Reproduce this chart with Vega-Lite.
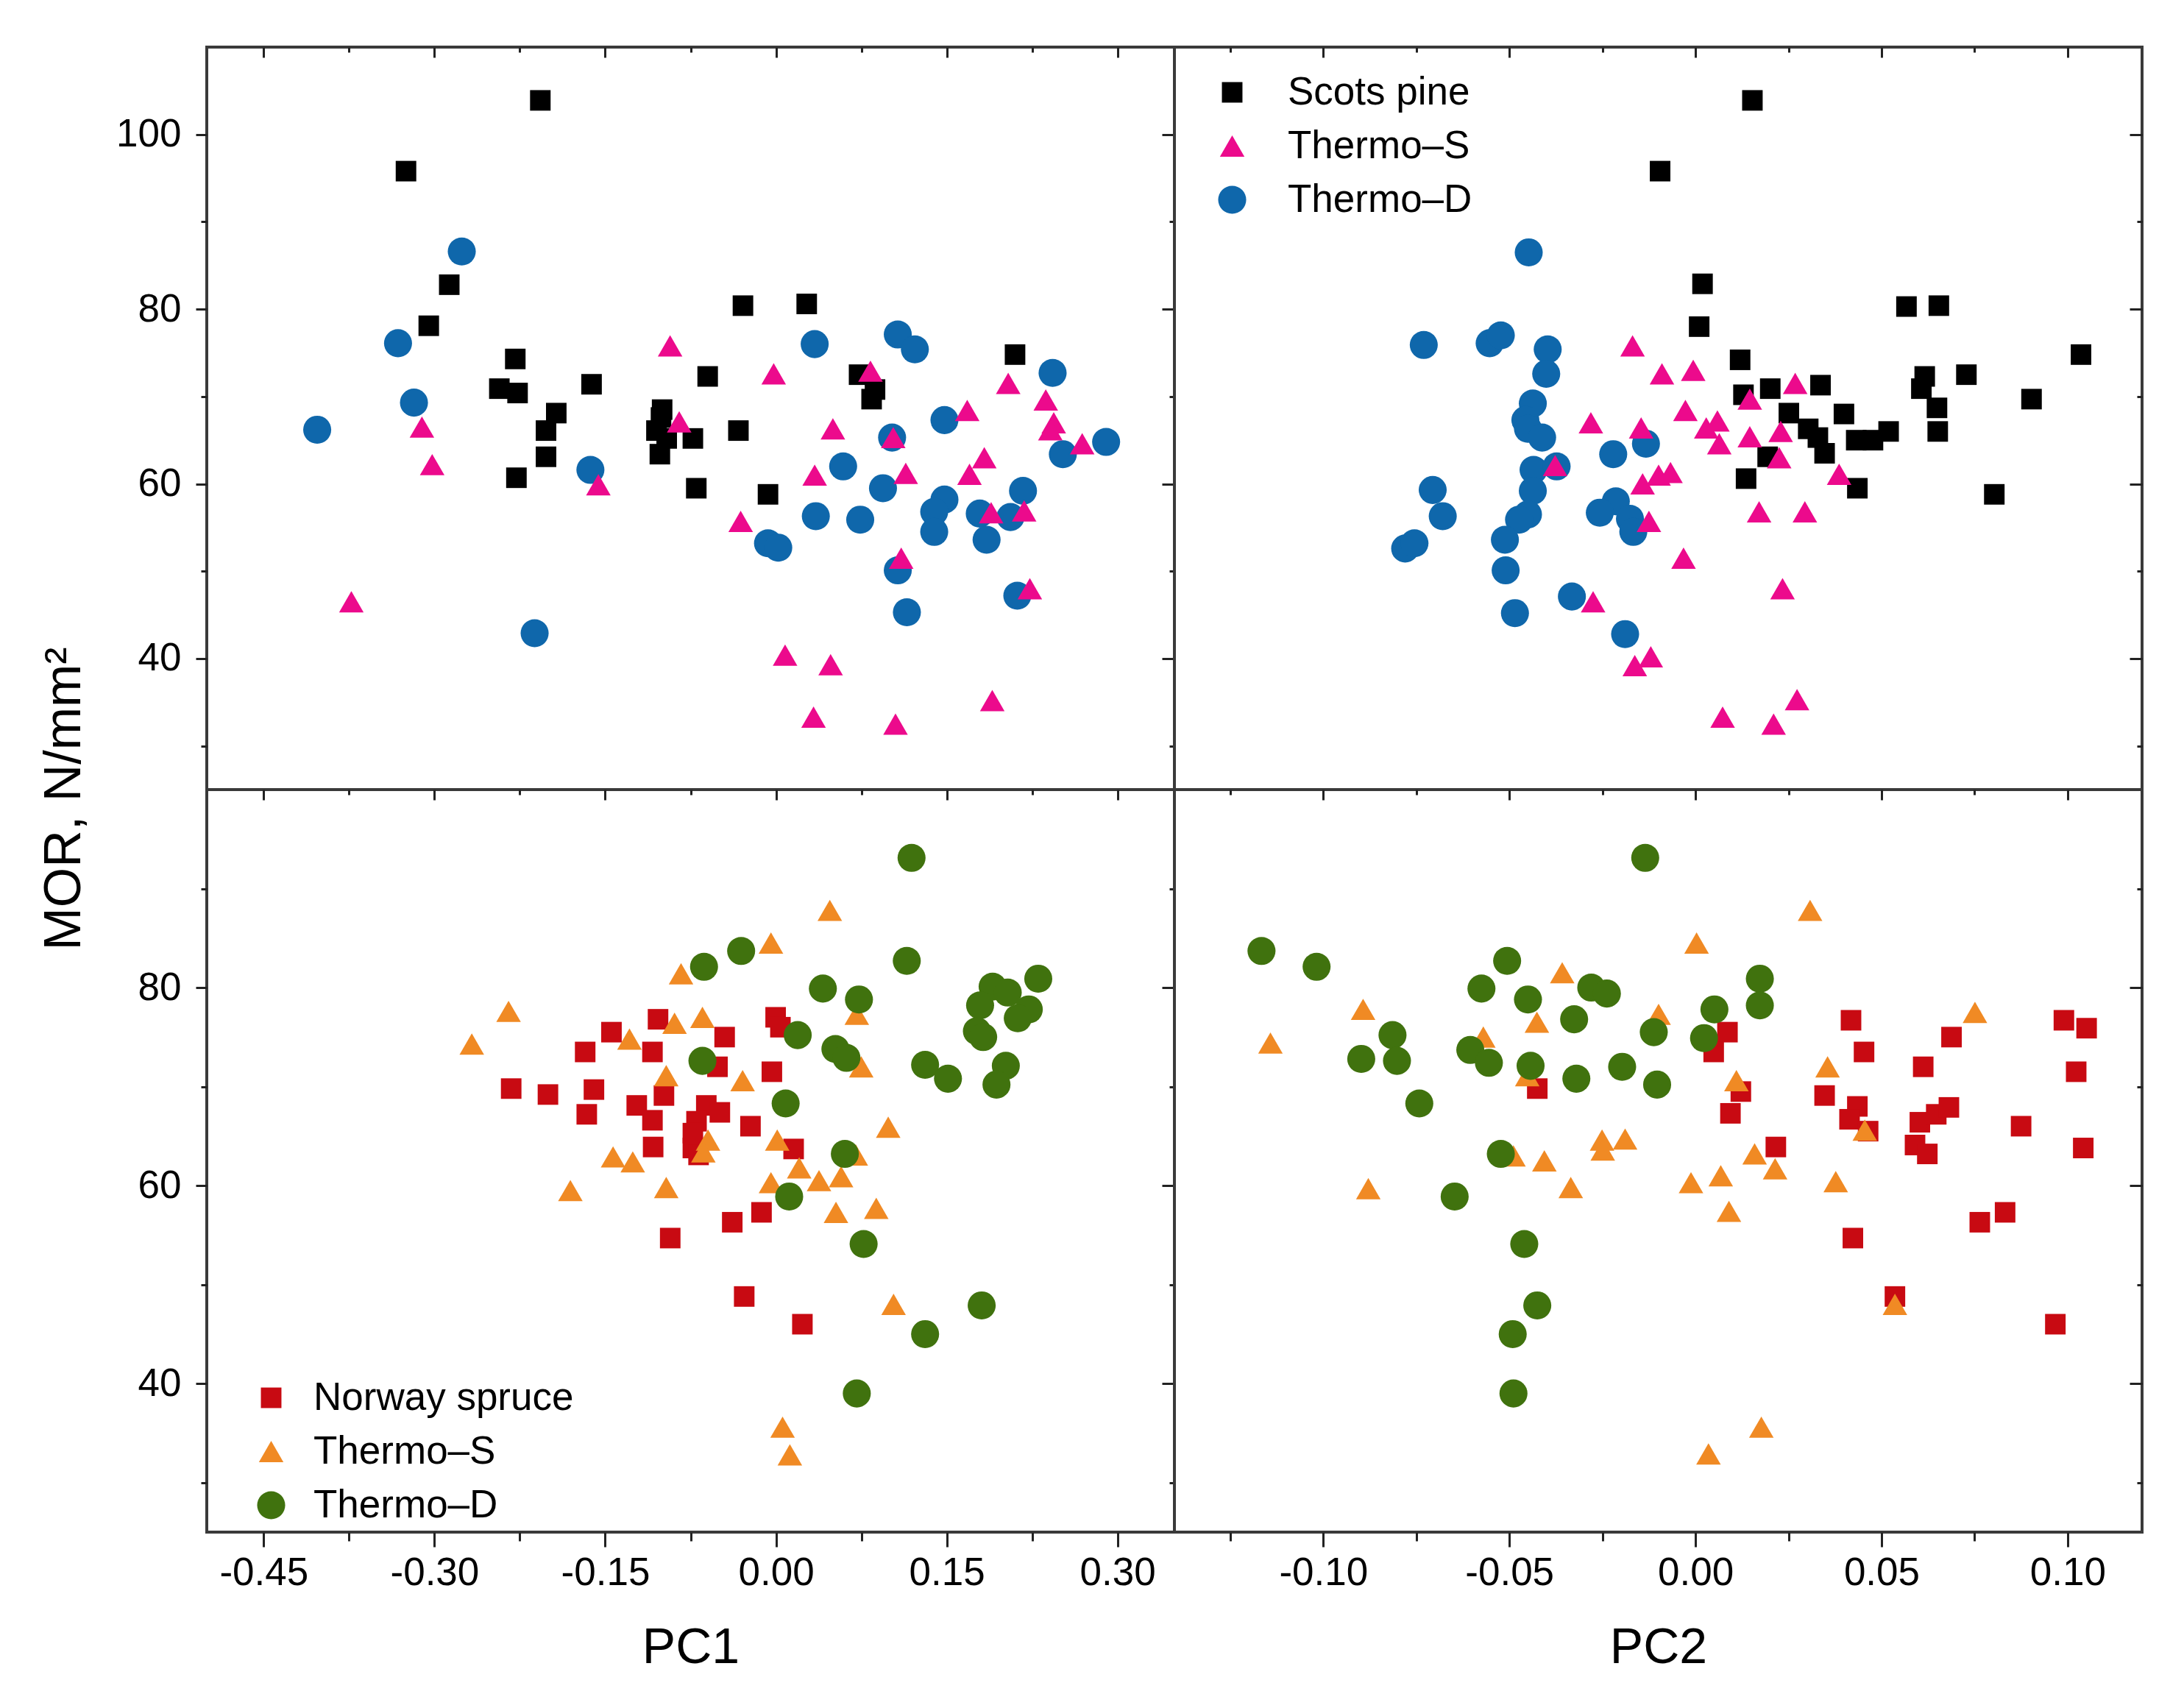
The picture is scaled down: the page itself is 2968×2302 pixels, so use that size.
{
  "$schema": "https://vega.github.io/schema/vega-lite/v6.json",
  "background": "white",
  "padding": {"left": 50, "top": 60, "right": 10, "bottom": 10},
  "config": {
    "font": "Liberation Sans",
    "view": {"stroke": "#3a3a3a", "strokeWidth": 4},
    "axis": {
      "domain": false,
      "grid": false,
      "tickColor": "#222222",
      "tickWidth": 3,
      "labelFont": "Liberation Sans",
      "labelFontSize": 53,
      "labelColor": "#000000",
      "titleFont": "Liberation Sans",
      "titleFontWeight": "normal",
      "titleColor": "#000000"
    },
    "legend": {"labelFont": "Liberation Sans", "labelFontSize": 53, "labelColor": "#000000", "labelLimit": 0}
  },
  "datasets": {
    "tl": [
      {"group": "Scots pine", "PC1": -0.207, "MOR": 103.9},
      {"group": "Scots pine", "PC1": -0.325, "MOR": 95.8},
      {"group": "Scots pine", "PC1": -0.287, "MOR": 82.8},
      {"group": "Scots pine", "PC1": -0.305, "MOR": 78.1},
      {"group": "Scots pine", "PC1": -0.229, "MOR": 74.3},
      {"group": "Scots pine", "PC1": -0.243, "MOR": 70.9},
      {"group": "Scots pine", "PC1": -0.227, "MOR": 70.4},
      {"group": "Scots pine", "PC1": -0.193, "MOR": 68.1},
      {"group": "Scots pine", "PC1": -0.202, "MOR": 66.1},
      {"group": "Scots pine", "PC1": -0.202, "MOR": 63.1},
      {"group": "Scots pine", "PC1": -0.228, "MOR": 60.7},
      {"group": "Scots pine", "PC1": -0.162, "MOR": 71.4},
      {"group": "Scots pine", "PC1": -0.1, "MOR": 68.5},
      {"group": "Scots pine", "PC1": -0.101, "MOR": 67.6},
      {"group": "Scots pine", "PC1": -0.105, "MOR": 66.1},
      {"group": "Scots pine", "PC1": -0.096, "MOR": 65.2},
      {"group": "Scots pine", "PC1": -0.102, "MOR": 63.4},
      {"group": "Scots pine", "PC1": -0.073, "MOR": 65.2},
      {"group": "Scots pine", "PC1": -0.07, "MOR": 59.5},
      {"group": "Scots pine", "PC1": -0.06, "MOR": 72.3},
      {"group": "Scots pine", "PC1": -0.029, "MOR": 80.4},
      {"group": "Scots pine", "PC1": 0.027, "MOR": 80.6},
      {"group": "Scots pine", "PC1": 0.073, "MOR": 72.5},
      {"group": "Scots pine", "PC1": 0.087, "MOR": 70.8},
      {"group": "Scots pine", "PC1": 0.084, "MOR": 69.7},
      {"group": "Scots pine", "PC1": -0.033, "MOR": 66.1},
      {"group": "Scots pine", "PC1": -0.007, "MOR": 58.8},
      {"group": "Scots pine", "PC1": 0.21, "MOR": 74.8},
      {"group": "Thermo–D", "PC1": -0.276, "MOR": 86.6},
      {"group": "Thermo–D", "PC1": -0.332, "MOR": 76.1},
      {"group": "Thermo–D", "PC1": -0.318, "MOR": 69.3},
      {"group": "Thermo–D", "PC1": -0.403, "MOR": 66.2},
      {"group": "Thermo–D", "PC1": -0.163, "MOR": 61.6},
      {"group": "Thermo–D", "PC1": -0.212, "MOR": 42.9},
      {"group": "Thermo–D", "PC1": 0.034, "MOR": 76.0},
      {"group": "Thermo–D", "PC1": 0.107, "MOR": 77.1},
      {"group": "Thermo–D", "PC1": 0.122, "MOR": 75.4},
      {"group": "Thermo–D", "PC1": 0.243, "MOR": 72.7},
      {"group": "Thermo–D", "PC1": 0.148, "MOR": 67.3},
      {"group": "Thermo–D", "PC1": 0.102, "MOR": 65.3},
      {"group": "Thermo–D", "PC1": 0.29, "MOR": 64.8},
      {"group": "Thermo–D", "PC1": 0.252, "MOR": 63.4},
      {"group": "Thermo–D", "PC1": 0.059, "MOR": 62.0},
      {"group": "Thermo–D", "PC1": 0.094, "MOR": 59.5},
      {"group": "Thermo–D", "PC1": 0.217, "MOR": 59.2},
      {"group": "Thermo–D", "PC1": 0.148, "MOR": 58.2},
      {"group": "Thermo–D", "PC1": 0.139, "MOR": 56.8},
      {"group": "Thermo–D", "PC1": 0.035, "MOR": 56.3},
      {"group": "Thermo–D", "PC1": 0.074, "MOR": 55.9},
      {"group": "Thermo–D", "PC1": 0.179, "MOR": 56.6},
      {"group": "Thermo–D", "PC1": 0.206, "MOR": 56.2},
      {"group": "Thermo–D", "PC1": 0.139, "MOR": 54.5},
      {"group": "Thermo–D", "PC1": 0.185, "MOR": 53.6},
      {"group": "Thermo–D", "PC1": -0.007, "MOR": 53.2},
      {"group": "Thermo–D", "PC1": 0.002, "MOR": 52.7},
      {"group": "Thermo–D", "PC1": 0.107, "MOR": 50.1},
      {"group": "Thermo–D", "PC1": 0.212, "MOR": 47.2},
      {"group": "Thermo–D", "PC1": 0.115, "MOR": 45.3},
      {"group": "Thermo–S", "PC1": -0.093, "MOR": 75.8},
      {"group": "Thermo–S", "PC1": -0.085, "MOR": 67.1},
      {"group": "Thermo–S", "PC1": -0.311, "MOR": 66.5},
      {"group": "Thermo–S", "PC1": -0.302, "MOR": 62.2},
      {"group": "Thermo–S", "PC1": -0.156, "MOR": 59.9},
      {"group": "Thermo–S", "PC1": -0.373, "MOR": 46.5},
      {"group": "Thermo–S", "PC1": -0.002, "MOR": 72.6},
      {"group": "Thermo–S", "PC1": 0.083, "MOR": 72.9},
      {"group": "Thermo–S", "PC1": 0.05, "MOR": 66.3},
      {"group": "Thermo–S", "PC1": 0.103, "MOR": 65.3},
      {"group": "Thermo–S", "PC1": 0.168, "MOR": 68.4},
      {"group": "Thermo–S", "PC1": 0.204, "MOR": 71.5},
      {"group": "Thermo–S", "PC1": 0.237, "MOR": 69.6},
      {"group": "Thermo–S", "PC1": 0.244, "MOR": 67.0},
      {"group": "Thermo–S", "PC1": 0.241, "MOR": 66.2},
      {"group": "Thermo–S", "PC1": 0.269, "MOR": 64.6},
      {"group": "Thermo–S", "PC1": 0.183, "MOR": 63.0},
      {"group": "Thermo–S", "PC1": 0.17, "MOR": 61.1},
      {"group": "Thermo–S", "PC1": 0.114, "MOR": 61.2},
      {"group": "Thermo–S", "PC1": 0.034, "MOR": 61.0},
      {"group": "Thermo–S", "PC1": -0.031, "MOR": 55.7},
      {"group": "Thermo–S", "PC1": 0.189, "MOR": 56.7},
      {"group": "Thermo–S", "PC1": 0.218, "MOR": 56.9},
      {"group": "Thermo–S", "PC1": 0.11, "MOR": 51.5},
      {"group": "Thermo–S", "PC1": 0.223, "MOR": 48.0},
      {"group": "Thermo–S", "PC1": 0.008, "MOR": 40.4},
      {"group": "Thermo–S", "PC1": 0.048, "MOR": 39.3},
      {"group": "Thermo–S", "PC1": 0.033, "MOR": 33.3},
      {"group": "Thermo–S", "PC1": 0.105, "MOR": 32.5},
      {"group": "Thermo–S", "PC1": 0.19, "MOR": 35.2}
    ],
    "tr": [
      {"group": "Scots pine", "PC2": 0.0153, "MOR": 103.9},
      {"group": "Scots pine", "PC2": -0.0095, "MOR": 95.8},
      {"group": "Scots pine", "PC2": 0.0019, "MOR": 82.9},
      {"group": "Scots pine", "PC2": 0.001, "MOR": 78.0},
      {"group": "Scots pine", "PC2": 0.012, "MOR": 74.2},
      {"group": "Scots pine", "PC2": 0.0567, "MOR": 80.3},
      {"group": "Scots pine", "PC2": 0.0654, "MOR": 80.4},
      {"group": "Scots pine", "PC2": 0.1036, "MOR": 74.8},
      {"group": "Scots pine", "PC2": 0.0336, "MOR": 71.3},
      {"group": "Scots pine", "PC2": 0.0201, "MOR": 70.9},
      {"group": "Scots pine", "PC2": 0.0129, "MOR": 70.2},
      {"group": "Scots pine", "PC2": 0.0728, "MOR": 72.5},
      {"group": "Scots pine", "PC2": 0.0616, "MOR": 72.3},
      {"group": "Scots pine", "PC2": 0.0607, "MOR": 70.9},
      {"group": "Scots pine", "PC2": 0.0649, "MOR": 68.7},
      {"group": "Scots pine", "PC2": 0.0903, "MOR": 69.7},
      {"group": "Scots pine", "PC2": 0.0251, "MOR": 68.1},
      {"group": "Scots pine", "PC2": 0.0399, "MOR": 68.0},
      {"group": "Scots pine", "PC2": 0.0303, "MOR": 66.3},
      {"group": "Scots pine", "PC2": 0.0329, "MOR": 65.3},
      {"group": "Scots pine", "PC2": 0.0347, "MOR": 63.5},
      {"group": "Scots pine", "PC2": 0.0432, "MOR": 65.0},
      {"group": "Scots pine", "PC2": 0.0477, "MOR": 65.0},
      {"group": "Scots pine", "PC2": 0.0519, "MOR": 66.0},
      {"group": "Scots pine", "PC2": 0.0651, "MOR": 66.0},
      {"group": "Scots pine", "PC2": 0.0194, "MOR": 63.1},
      {"group": "Scots pine", "PC2": 0.0136, "MOR": 60.6},
      {"group": "Scots pine", "PC2": 0.0435, "MOR": 59.5},
      {"group": "Scots pine", "PC2": 0.0803, "MOR": 58.8},
      {"group": "Thermo–D", "PC2": -0.0448, "MOR": 86.5},
      {"group": "Thermo–D", "PC2": -0.073, "MOR": 75.9},
      {"group": "Thermo–D", "PC2": -0.0553, "MOR": 76.1},
      {"group": "Thermo–D", "PC2": -0.0523, "MOR": 77.0},
      {"group": "Thermo–D", "PC2": -0.0397, "MOR": 75.4},
      {"group": "Thermo–D", "PC2": -0.0401, "MOR": 72.6},
      {"group": "Thermo–D", "PC2": -0.0437, "MOR": 69.2},
      {"group": "Thermo–D", "PC2": -0.0457, "MOR": 67.3},
      {"group": "Thermo–D", "PC2": -0.045, "MOR": 66.3},
      {"group": "Thermo–D", "PC2": -0.0412, "MOR": 65.3},
      {"group": "Thermo–D", "PC2": -0.0221, "MOR": 63.4},
      {"group": "Thermo–D", "PC2": -0.0133, "MOR": 64.6},
      {"group": "Thermo–D", "PC2": -0.0435, "MOR": 61.6},
      {"group": "Thermo–D", "PC2": -0.0373, "MOR": 62.0},
      {"group": "Thermo–D", "PC2": -0.0437, "MOR": 59.2},
      {"group": "Thermo–D", "PC2": -0.0706, "MOR": 59.3},
      {"group": "Thermo–D", "PC2": -0.0679, "MOR": 56.3},
      {"group": "Thermo–D", "PC2": -0.045, "MOR": 56.5},
      {"group": "Thermo–D", "PC2": -0.0474, "MOR": 55.9},
      {"group": "Thermo–D", "PC2": -0.0214, "MOR": 58.0},
      {"group": "Thermo–D", "PC2": -0.0257, "MOR": 56.7},
      {"group": "Thermo–D", "PC2": -0.0176, "MOR": 56.0},
      {"group": "Thermo–D", "PC2": -0.0167, "MOR": 54.5},
      {"group": "Thermo–D", "PC2": -0.078, "MOR": 52.6},
      {"group": "Thermo–D", "PC2": -0.0755, "MOR": 53.2},
      {"group": "Thermo–D", "PC2": -0.0512, "MOR": 53.6},
      {"group": "Thermo–D", "PC2": -0.051, "MOR": 50.1},
      {"group": "Thermo–D", "PC2": -0.0332, "MOR": 47.1},
      {"group": "Thermo–D", "PC2": -0.0485, "MOR": 45.2},
      {"group": "Thermo–D", "PC2": -0.0189, "MOR": 42.8},
      {"group": "Thermo–S", "PC2": -0.0169, "MOR": 75.8},
      {"group": "Thermo–S", "PC2": -0.009, "MOR": 72.6},
      {"group": "Thermo–S", "PC2": -0.0281, "MOR": 67.0},
      {"group": "Thermo–S", "PC2": -0.0146, "MOR": 66.4},
      {"group": "Thermo–S", "PC2": -0.0377, "MOR": 62.1},
      {"group": "Thermo–S", "PC2": -0.0142, "MOR": 60.0},
      {"group": "Thermo–S", "PC2": -0.0099, "MOR": 61.0},
      {"group": "Thermo–S", "PC2": -0.0067, "MOR": 61.3},
      {"group": "Thermo–S", "PC2": -0.0125, "MOR": 55.7},
      {"group": "Thermo–S", "PC2": -0.0275, "MOR": 46.5},
      {"group": "Thermo–S", "PC2": -0.0163, "MOR": 39.2},
      {"group": "Thermo–S", "PC2": -0.012, "MOR": 40.2},
      {"group": "Thermo–S", "PC2": -0.0006, "MOR": 73.0},
      {"group": "Thermo–S", "PC2": -0.0027, "MOR": 68.4},
      {"group": "Thermo–S", "PC2": 0.0029, "MOR": 66.4},
      {"group": "Thermo–S", "PC2": 0.0059, "MOR": 67.2},
      {"group": "Thermo–S", "PC2": 0.0064, "MOR": 64.6},
      {"group": "Thermo–S", "PC2": 0.0146, "MOR": 69.7},
      {"group": "Thermo–S", "PC2": 0.0268, "MOR": 71.5},
      {"group": "Thermo–S", "PC2": 0.0146, "MOR": 65.4},
      {"group": "Thermo–S", "PC2": 0.0229, "MOR": 66.0},
      {"group": "Thermo–S", "PC2": 0.0225, "MOR": 63.0},
      {"group": "Thermo–S", "PC2": 0.0386, "MOR": 61.1},
      {"group": "Thermo–S", "PC2": 0.0171, "MOR": 56.8},
      {"group": "Thermo–S", "PC2": 0.0294, "MOR": 56.8},
      {"group": "Thermo–S", "PC2": -0.0032, "MOR": 51.5},
      {"group": "Thermo–S", "PC2": 0.0234, "MOR": 48.0},
      {"group": "Thermo–S", "PC2": 0.0273, "MOR": 35.3},
      {"group": "Thermo–S", "PC2": 0.0073, "MOR": 33.3},
      {"group": "Thermo–S", "PC2": 0.021, "MOR": 32.5}
    ],
    "bl": [
      {"group": "Norway spruce", "PC1": -0.2326, "MOR": 69.8},
      {"group": "Norway spruce", "PC1": -0.2003, "MOR": 69.2},
      {"group": "Norway spruce", "PC1": -0.1676, "MOR": 73.5},
      {"group": "Norway spruce", "PC1": -0.1445, "MOR": 75.5},
      {"group": "Norway spruce", "PC1": -0.1599, "MOR": 69.7},
      {"group": "Norway spruce", "PC1": -0.1662, "MOR": 67.2},
      {"group": "Norway spruce", "PC1": -0.1036, "MOR": 76.8},
      {"group": "Norway spruce", "PC1": -0.1085, "MOR": 73.5},
      {"group": "Norway spruce", "PC1": -0.1223, "MOR": 68.1},
      {"group": "Norway spruce", "PC1": -0.1085, "MOR": 66.6},
      {"group": "Norway spruce", "PC1": -0.0984, "MOR": 69.1},
      {"group": "Norway spruce", "PC1": -0.1079, "MOR": 63.9},
      {"group": "Norway spruce", "PC1": -0.0929, "MOR": 54.7},
      {"group": "Norway spruce", "PC1": -0.0003, "MOR": 77.0},
      {"group": "Norway spruce", "PC1": 0.0039, "MOR": 76.0},
      {"group": "Norway spruce", "PC1": -0.0451, "MOR": 75.0},
      {"group": "Norway spruce", "PC1": -0.0514, "MOR": 72.0},
      {"group": "Norway spruce", "PC1": -0.0036, "MOR": 71.5},
      {"group": "Norway spruce", "PC1": -0.0224, "MOR": 66.0},
      {"group": "Norway spruce", "PC1": 0.0155, "MOR": 63.7},
      {"group": "Norway spruce", "PC1": -0.0127, "MOR": 57.3},
      {"group": "Norway spruce", "PC1": -0.0384, "MOR": 56.3},
      {"group": "Norway spruce", "PC1": -0.0279, "MOR": 48.8},
      {"group": "Norway spruce", "PC1": 0.0232, "MOR": 46.0},
      {"group": "Norway spruce", "PC1": -0.0612, "MOR": 68.1},
      {"group": "Norway spruce", "PC1": -0.0493, "MOR": 67.4},
      {"group": "Norway spruce", "PC1": -0.0698, "MOR": 66.5},
      {"group": "Norway spruce", "PC1": -0.073, "MOR": 65.3},
      {"group": "Norway spruce", "PC1": -0.073, "MOR": 63.8},
      {"group": "Norway spruce", "PC1": -0.068, "MOR": 63.1},
      {"group": "Thermo–S", "PC1": -0.2349, "MOR": 77.6},
      {"group": "Thermo–S", "PC1": -0.2672, "MOR": 74.3},
      {"group": "Thermo–S", "PC1": -0.0834, "MOR": 81.4},
      {"group": "Thermo–S", "PC1": -0.0891, "MOR": 76.4},
      {"group": "Thermo–S", "PC1": -0.0646, "MOR": 77.0},
      {"group": "Thermo–S", "PC1": -0.1287, "MOR": 74.8},
      {"group": "Thermo–S", "PC1": -0.0964, "MOR": 71.1},
      {"group": "Thermo–S", "PC1": -0.1431, "MOR": 62.9},
      {"group": "Thermo–S", "PC1": -0.1258, "MOR": 62.4},
      {"group": "Thermo–S", "PC1": -0.1806, "MOR": 59.5},
      {"group": "Thermo–S", "PC1": -0.0964, "MOR": 59.8},
      {"group": "Thermo–S", "PC1": 0.0473, "MOR": 87.8},
      {"group": "Thermo–S", "PC1": -0.0044, "MOR": 84.5},
      {"group": "Thermo–S", "PC1": 0.071, "MOR": 77.3},
      {"group": "Thermo–S", "PC1": 0.0749, "MOR": 72.0},
      {"group": "Thermo–S", "PC1": -0.0293, "MOR": 70.6},
      {"group": "Thermo–S", "PC1": 0.0986, "MOR": 65.9},
      {"group": "Thermo–S", "PC1": 0.0011, "MOR": 64.6},
      {"group": "Thermo–S", "PC1": -0.0597, "MOR": 64.6},
      {"group": "Thermo–S", "PC1": -0.0638, "MOR": 63.4},
      {"group": "Thermo–S", "PC1": 0.0701, "MOR": 63.1},
      {"group": "Thermo–S", "PC1": 0.0204, "MOR": 61.8},
      {"group": "Thermo–S", "PC1": 0.0378, "MOR": 60.5},
      {"group": "Thermo–S", "PC1": 0.0572, "MOR": 60.9},
      {"group": "Thermo–S", "PC1": -0.0044, "MOR": 60.3},
      {"group": "Thermo–S", "PC1": 0.0527, "MOR": 57.3},
      {"group": "Thermo–S", "PC1": 0.0881, "MOR": 57.7},
      {"group": "Thermo–S", "PC1": 0.1033, "MOR": 48.0},
      {"group": "Thermo–S", "PC1": 0.0058, "MOR": 35.6},
      {"group": "Thermo–S", "PC1": 0.0122, "MOR": 32.8},
      {"group": "Thermo–D", "PC1": -0.0632, "MOR": 82.1},
      {"group": "Thermo–D", "PC1": -0.0646, "MOR": 72.6},
      {"group": "Thermo–D", "PC1": 0.1191, "MOR": 93.1},
      {"group": "Thermo–D", "PC1": -0.0306, "MOR": 83.7},
      {"group": "Thermo–D", "PC1": 0.1149, "MOR": 82.7},
      {"group": "Thermo–D", "PC1": 0.0412, "MOR": 79.9},
      {"group": "Thermo–D", "PC1": 0.0729, "MOR": 78.8},
      {"group": "Thermo–D", "PC1": 0.2304, "MOR": 80.9},
      {"group": "Thermo–D", "PC1": 0.1903, "MOR": 80.1},
      {"group": "Thermo–D", "PC1": 0.2036, "MOR": 79.5},
      {"group": "Thermo–D", "PC1": 0.1793, "MOR": 78.2},
      {"group": "Thermo–D", "PC1": 0.2221, "MOR": 77.8},
      {"group": "Thermo–D", "PC1": 0.2124, "MOR": 76.9},
      {"group": "Thermo–D", "PC1": 0.1765, "MOR": 75.6},
      {"group": "Thermo–D", "PC1": 0.182, "MOR": 75.0},
      {"group": "Thermo–D", "PC1": 0.0191, "MOR": 75.2},
      {"group": "Thermo–D", "PC1": 0.0522, "MOR": 73.8},
      {"group": "Thermo–D", "PC1": 0.0619, "MOR": 72.9},
      {"group": "Thermo–D", "PC1": 0.131, "MOR": 72.2},
      {"group": "Thermo–D", "PC1": 0.1511, "MOR": 70.8},
      {"group": "Thermo–D", "PC1": 0.2019, "MOR": 72.1},
      {"group": "Thermo–D", "PC1": 0.1937, "MOR": 70.2},
      {"group": "Thermo–D", "PC1": 0.0085, "MOR": 68.3},
      {"group": "Thermo–D", "PC1": 0.0605, "MOR": 63.2},
      {"group": "Thermo–D", "PC1": 0.0116, "MOR": 58.9},
      {"group": "Thermo–D", "PC1": 0.077, "MOR": 54.1},
      {"group": "Thermo–D", "PC1": 0.1807, "MOR": 47.9},
      {"group": "Thermo–D", "PC1": 0.131, "MOR": 45.0},
      {"group": "Thermo–D", "PC1": 0.071, "MOR": 39.0}
    ],
    "br": [
      {"group": "Norway spruce", "PC2": -0.0425, "MOR": 69.8},
      {"group": "Norway spruce", "PC2": 0.0086, "MOR": 75.5},
      {"group": "Norway spruce", "PC2": 0.0049, "MOR": 73.5},
      {"group": "Norway spruce", "PC2": 0.0122, "MOR": 69.5},
      {"group": "Norway spruce", "PC2": 0.0094, "MOR": 67.3},
      {"group": "Norway spruce", "PC2": 0.0418, "MOR": 76.7},
      {"group": "Norway spruce", "PC2": 0.0453, "MOR": 73.5},
      {"group": "Norway spruce", "PC2": 0.0347, "MOR": 69.1},
      {"group": "Norway spruce", "PC2": 0.0435, "MOR": 68.0},
      {"group": "Norway spruce", "PC2": 0.0414, "MOR": 66.7},
      {"group": "Norway spruce", "PC2": 0.0464, "MOR": 65.5},
      {"group": "Norway spruce", "PC2": 0.0216, "MOR": 63.9},
      {"group": "Norway spruce", "PC2": 0.0423, "MOR": 54.7},
      {"group": "Norway spruce", "PC2": 0.0536, "MOR": 48.8},
      {"group": "Norway spruce", "PC2": 0.0612, "MOR": 72.0},
      {"group": "Norway spruce", "PC2": 0.0688, "MOR": 75.0},
      {"group": "Norway spruce", "PC2": 0.0603, "MOR": 66.4},
      {"group": "Norway spruce", "PC2": 0.0647, "MOR": 67.2},
      {"group": "Norway spruce", "PC2": 0.0681, "MOR": 67.9},
      {"group": "Norway spruce", "PC2": 0.059, "MOR": 64.1},
      {"group": "Norway spruce", "PC2": 0.0623, "MOR": 63.2},
      {"group": "Norway spruce", "PC2": 0.0875, "MOR": 66.0},
      {"group": "Norway spruce", "PC2": 0.0764, "MOR": 56.3},
      {"group": "Norway spruce", "PC2": 0.0832, "MOR": 57.3},
      {"group": "Norway spruce", "PC2": 0.099, "MOR": 76.7},
      {"group": "Norway spruce", "PC2": 0.1051, "MOR": 75.9},
      {"group": "Norway spruce", "PC2": 0.1023, "MOR": 71.5},
      {"group": "Norway spruce", "PC2": 0.1042, "MOR": 63.8},
      {"group": "Norway spruce", "PC2": 0.0967, "MOR": 46.0},
      {"group": "Thermo–S", "PC2": -0.0358, "MOR": 81.5},
      {"group": "Thermo–S", "PC2": -0.0893, "MOR": 77.8},
      {"group": "Thermo–S", "PC2": -0.1142, "MOR": 74.4},
      {"group": "Thermo–S", "PC2": -0.057, "MOR": 75.0},
      {"group": "Thermo–S", "PC2": -0.0426, "MOR": 76.5},
      {"group": "Thermo–S", "PC2": -0.0099, "MOR": 77.3},
      {"group": "Thermo–S", "PC2": -0.0452, "MOR": 71.1},
      {"group": "Thermo–S", "PC2": -0.0251, "MOR": 64.6},
      {"group": "Thermo–S", "PC2": -0.0249, "MOR": 63.6},
      {"group": "Thermo–S", "PC2": -0.0189, "MOR": 64.7},
      {"group": "Thermo–S", "PC2": -0.0489, "MOR": 63.0},
      {"group": "Thermo–S", "PC2": -0.0406, "MOR": 62.5},
      {"group": "Thermo–S", "PC2": -0.0335, "MOR": 59.8},
      {"group": "Thermo–S", "PC2": -0.0879, "MOR": 59.7},
      {"group": "Thermo–S", "PC2": 0.0308, "MOR": 87.8},
      {"group": "Thermo–S", "PC2": 0.0003, "MOR": 84.5},
      {"group": "Thermo–S", "PC2": 0.0751, "MOR": 77.5},
      {"group": "Thermo–S", "PC2": 0.0355, "MOR": 72.0},
      {"group": "Thermo–S", "PC2": 0.011, "MOR": 70.6},
      {"group": "Thermo–S", "PC2": 0.0455, "MOR": 65.6},
      {"group": "Thermo–S", "PC2": 0.0159, "MOR": 63.2},
      {"group": "Thermo–S", "PC2": 0.0214, "MOR": 61.7},
      {"group": "Thermo–S", "PC2": -0.0012, "MOR": 60.3},
      {"group": "Thermo–S", "PC2": 0.0068, "MOR": 61.0},
      {"group": "Thermo–S", "PC2": 0.0377, "MOR": 60.4},
      {"group": "Thermo–S", "PC2": 0.009, "MOR": 57.4},
      {"group": "Thermo–S", "PC2": 0.0536, "MOR": 48.0},
      {"group": "Thermo–S", "PC2": 0.0177, "MOR": 35.6},
      {"group": "Thermo–S", "PC2": 0.0035, "MOR": 32.9},
      {"group": "Thermo–D", "PC2": -0.0135, "MOR": 93.1},
      {"group": "Thermo–D", "PC2": -0.1166, "MOR": 83.7},
      {"group": "Thermo–D", "PC2": -0.1018, "MOR": 82.1},
      {"group": "Thermo–D", "PC2": -0.0506, "MOR": 82.7},
      {"group": "Thermo–D", "PC2": -0.0575, "MOR": 79.9},
      {"group": "Thermo–D", "PC2": -0.045, "MOR": 78.8},
      {"group": "Thermo–D", "PC2": -0.028, "MOR": 80.0},
      {"group": "Thermo–D", "PC2": -0.0238, "MOR": 79.4},
      {"group": "Thermo–D", "PC2": -0.0326, "MOR": 76.8},
      {"group": "Thermo–D", "PC2": -0.0112, "MOR": 75.5},
      {"group": "Thermo–D", "PC2": -0.0814, "MOR": 75.2},
      {"group": "Thermo–D", "PC2": -0.0898, "MOR": 72.8},
      {"group": "Thermo–D", "PC2": -0.0802, "MOR": 72.6},
      {"group": "Thermo–D", "PC2": -0.0605, "MOR": 73.7},
      {"group": "Thermo–D", "PC2": -0.0555, "MOR": 72.4},
      {"group": "Thermo–D", "PC2": -0.0443, "MOR": 72.1},
      {"group": "Thermo–D", "PC2": -0.032, "MOR": 70.8},
      {"group": "Thermo–D", "PC2": -0.0197, "MOR": 72.0},
      {"group": "Thermo–D", "PC2": -0.0103, "MOR": 70.2},
      {"group": "Thermo–D", "PC2": -0.0742, "MOR": 68.3},
      {"group": "Thermo–D", "PC2": -0.0523, "MOR": 63.2},
      {"group": "Thermo–D", "PC2": -0.0647, "MOR": 58.9},
      {"group": "Thermo–D", "PC2": -0.046, "MOR": 54.1},
      {"group": "Thermo–D", "PC2": -0.0425, "MOR": 47.9},
      {"group": "Thermo–D", "PC2": -0.0491, "MOR": 45.0},
      {"group": "Thermo–D", "PC2": -0.0489, "MOR": 39.0},
      {"group": "Thermo–D", "PC2": 0.0173, "MOR": 80.9},
      {"group": "Thermo–D", "PC2": 0.0173, "MOR": 78.2},
      {"group": "Thermo–D", "PC2": 0.0051, "MOR": 77.8},
      {"group": "Thermo–D", "PC2": 0.0023, "MOR": 74.9}
    ]
  },
  "columns": 2,
  "spacing": 0,
  "bounds": "flush",
  "resolve": {"scale": {"x": "independent", "y": "independent", "color": "independent", "shape": "independent", "size": "independent"}},
  "concat": [
    {
      "width": 1315,
      "height": 1009,
      "data": {"name": "tl"},
      "resolve": {"axis": {"x": "independent", "y": "independent"}},
      "layer": [
        {
          "mark": {"type": "point", "filled": true, "opacity": 1, "strokeWidth": 0},
          "encoding": {
            "x": {"field": "PC1", "type": "quantitative", "scale": {"domain": [-0.5, 0.35], "nice": false, "zero": false}, "axis": null},
            "y": {
              "field": "MOR", "type": "quantitative",
              "scale": {"domain": [25, 110], "nice": false, "zero": false},
              "axis": {
                "orient": "left",
                "values": [30, 40, 50, 60, 70, 80, 90, 100],
                "labelExpr": "datum.value % 20 == 0 ? datum.label : ''",
                "tickSize": {"condition": {"test": "datum.value % 20 == 0", "value": 15}, "value": 8},
                "labelPadding": 20,
                "title": "MOR, N/mm²",
                "titleFontSize": 70,
                "titleAngle": 270,
                "titleX": -173,
                "titleY": 1021,
                "titleAlign": "center",
                "titleBaseline": "alphabetic"
              }
            },
            "color": {"field": "group", "type": "nominal", "scale": {"domain": ["Scots pine", "Thermo–S", "Thermo–D"], "range": ["#000000", "#EC0A8C", "#0F67AB"]}, "legend": null},
            "shape": {"field": "group", "type": "nominal", "scale": {"domain": ["Scots pine", "Thermo–S", "Thermo–D"], "range": ["square", "triangle-up", "circle"]}, "legend": null},
            "size": {"field": "group", "type": "ordinal", "scale": {"domain": ["Scots pine", "Thermo–S", "Thermo–D"], "range": [780, 1450, 780]}, "legend": null}
          }
        },
        {
          "mark": {"type": "point", "opacity": 0},
          "encoding": {
            "x": {
              "field": "PC1", "type": "quantitative", "scale": {"domain": [-0.5, 0.35], "nice": false, "zero": false},
              "axis": {"orient": "top", "values": [-0.45, -0.375, -0.3, -0.225, -0.15, -0.075, 0, 0.075, 0.15, 0.225, 0.3], "labels": false, "title": null,
                "tickSize": {"condition": {"test": "abs(round(datum.value*1000) % 150) == 0", "value": -14}, "value": -7}}
            },
            "y": {
              "field": "MOR", "type": "quantitative", "scale": {"domain": [25, 110], "nice": false, "zero": false},
              "axis": {"orient": "right", "values": [30, 40, 50, 60, 70, 80, 90, 100], "labels": false, "title": null,
                "tickSize": {"condition": {"test": "datum.value % 20 == 0", "value": -17}, "value": -7}}
            }
          }
        }
      ]
    },
    {
      "width": 1315,
      "height": 1009,
      "data": {"name": "tr"},
      "resolve": {"axis": {"x": "independent", "y": "independent"}},
      "layer": [
        {
          "mark": {"type": "point", "filled": true, "opacity": 1, "strokeWidth": 0},
          "encoding": {
            "x": {"field": "PC2", "type": "quantitative", "scale": {"domain": [-0.14, 0.12], "nice": false, "zero": false}, "axis": null},
            "y": {"field": "MOR", "type": "quantitative", "scale": {"domain": [25, 110], "nice": false, "zero": false}, "axis": null},
            "color": {
              "field": "group", "type": "nominal",
              "scale": {"domain": ["Scots pine", "Thermo–S", "Thermo–D"], "range": ["#000000", "#EC0A8C", "#0F67AB"]},
              "legend": {"orient": "none", "legendX": 52, "legendY": 35, "title": null, "padding": 0, "symbolSize": 800, "symbolStrokeWidth": 0, "labelOffset": 49, "rowPadding": 19, "labelFontSize": 53, "labelLimit": 0}
            },
            "shape": {
              "field": "group", "type": "nominal",
              "scale": {"domain": ["Scots pine", "Thermo–S", "Thermo–D"], "range": ["square", "triangle-up", "circle"]},
              "legend": {"orient": "none", "legendX": 52, "legendY": 35, "title": null, "padding": 0, "symbolSize": 800, "symbolStrokeWidth": 0, "labelOffset": 49, "rowPadding": 19, "labelFontSize": 53, "labelLimit": 0}
            },
            "size": {"field": "group", "type": "ordinal", "scale": {"domain": ["Scots pine", "Thermo–S", "Thermo–D"], "range": [780, 1450, 780]}, "legend": null}
          }
        },
        {
          "mark": {"type": "point", "opacity": 0},
          "encoding": {
            "x": {
              "field": "PC2", "type": "quantitative", "scale": {"domain": [-0.14, 0.12], "nice": false, "zero": false},
              "axis": {"orient": "top", "values": [-0.125, -0.1, -0.075, -0.05, -0.025, 0, 0.025, 0.05, 0.075, 0.1], "labels": false, "title": null,
                "tickSize": {"condition": {"test": "abs(round(datum.value*1000) % 50) == 0", "value": -14}, "value": -7}}
            },
            "y": {
              "field": "MOR", "type": "quantitative", "scale": {"domain": [25, 110], "nice": false, "zero": false},
              "axis": {"orient": "right", "values": [30, 40, 50, 60, 70, 80, 90, 100], "labels": false, "title": null,
                "tickSize": {"condition": {"test": "datum.value % 20 == 0", "value": -17}, "value": -7}}
            }
          }
        }
      ]
    },
    {
      "width": 1315,
      "height": 1009,
      "data": {"name": "bl"},
      "resolve": {"axis": {"x": "independent", "y": "independent"}},
      "layer": [
        {
          "mark": {"type": "point", "filled": true, "opacity": 1, "strokeWidth": 0},
          "encoding": {
            "x": {
              "field": "PC1", "type": "quantitative", "scale": {"domain": [-0.5, 0.35], "nice": false, "zero": false},
              "axis": {
                "orient": "bottom",
                "values": [-0.45, -0.375, -0.3, -0.225, -0.15, -0.075, 0, 0.075, 0.15, 0.225, 0.3],
                "labelExpr": "abs(round(datum.value*1000) % 150) == 0 ? replace(format(datum.value, '.2f'), '−', '-') : ''",
                "tickSize": {"condition": {"test": "abs(round(datum.value*1000) % 150) == 0", "value": 20}, "value": 12},
                "labelBaseline": "top",
                "labelPadding": 9,
                "title": "PC1",
                "titleFontSize": 68,
                "titleBaseline": "alphabetic",
                "titleY": 177
              }
            },
            "y": {
              "field": "MOR", "type": "quantitative",
              "scale": {"domain": [25, 100], "nice": false, "zero": false},
              "axis": {
                "orient": "left",
                "values": [30, 40, 50, 60, 70, 80, 90],
                "labelExpr": "datum.value % 20 == 0 ? datum.label : ''",
                "tickSize": {"condition": {"test": "datum.value % 20 == 0", "value": 15}, "value": 8},
                "labelPadding": 20,
                "title": null
              }
            },
            "color": {
              "field": "group", "type": "nominal",
              "scale": {"domain": ["Norway spruce", "Thermo–S", "Thermo–D"], "range": ["#C80A12", "#F08A24", "#40720E"]},
              "legend": {"orient": "none", "legendX": 61, "legendY": 800, "title": null, "padding": 0, "symbolSize": 800, "symbolStrokeWidth": 0, "labelOffset": 31, "rowPadding": 19, "labelFontSize": 53, "labelLimit": 0}
            },
            "shape": {
              "field": "group", "type": "nominal",
              "scale": {"domain": ["Norway spruce", "Thermo–S", "Thermo–D"], "range": ["square", "triangle-up", "circle"]},
              "legend": {"orient": "none", "legendX": 61, "legendY": 800, "title": null, "padding": 0, "symbolSize": 800, "symbolStrokeWidth": 0, "labelOffset": 31, "rowPadding": 19, "labelFontSize": 53, "labelLimit": 0}
            },
            "size": {"field": "group", "type": "ordinal", "scale": {"domain": ["Norway spruce", "Thermo–S", "Thermo–D"], "range": [780, 1450, 780]}, "legend": null}
          }
        },
        {
          "mark": {"type": "point", "opacity": 0},
          "encoding": {
            "x": {
              "field": "PC1", "type": "quantitative", "scale": {"domain": [-0.5, 0.35], "nice": false, "zero": false},
              "axis": {"orient": "top", "values": [-0.45, -0.375, -0.3, -0.225, -0.15, -0.075, 0, 0.075, 0.15, 0.225, 0.3], "labels": false, "title": null,
                "tickSize": {"condition": {"test": "abs(round(datum.value*1000) % 150) == 0", "value": -14}, "value": -7}}
            },
            "y": {
              "field": "MOR", "type": "quantitative", "scale": {"domain": [25, 100], "nice": false, "zero": false},
              "axis": {"orient": "right", "values": [30, 40, 50, 60, 70, 80, 90], "labels": false, "title": null,
                "tickSize": {"condition": {"test": "datum.value % 20 == 0", "value": -17}, "value": -7}}
            }
          }
        }
      ]
    },
    {
      "width": 1315,
      "height": 1009,
      "data": {"name": "br"},
      "resolve": {"axis": {"x": "independent", "y": "independent"}},
      "layer": [
        {
          "mark": {"type": "point", "filled": true, "opacity": 1, "strokeWidth": 0},
          "encoding": {
            "x": {
              "field": "PC2", "type": "quantitative", "scale": {"domain": [-0.14, 0.12], "nice": false, "zero": false},
              "axis": {
                "orient": "bottom",
                "values": [-0.125, -0.1, -0.075, -0.05, -0.025, 0, 0.025, 0.05, 0.075, 0.1],
                "labelExpr": "abs(round(datum.value*1000) % 50) == 0 ? replace(format(datum.value, '.2f'), '−', '-') : ''",
                "tickSize": {"condition": {"test": "abs(round(datum.value*1000) % 50) == 0", "value": 20}, "value": 12},
                "labelBaseline": "top",
                "labelPadding": 9,
                "title": "PC2",
                "titleFontSize": 68,
                "titleBaseline": "alphabetic",
                "titleY": 177
              }
            },
            "y": {"field": "MOR", "type": "quantitative", "scale": {"domain": [25, 100], "nice": false, "zero": false}, "axis": null},
            "color": {"field": "group", "type": "nominal", "scale": {"domain": ["Norway spruce", "Thermo–S", "Thermo–D"], "range": ["#C80A12", "#F08A24", "#40720E"]}, "legend": null},
            "shape": {"field": "group", "type": "nominal", "scale": {"domain": ["Norway spruce", "Thermo–S", "Thermo–D"], "range": ["square", "triangle-up", "circle"]}, "legend": null},
            "size": {"field": "group", "type": "ordinal", "scale": {"domain": ["Norway spruce", "Thermo–S", "Thermo–D"], "range": [780, 1450, 780]}, "legend": null}
          }
        },
        {
          "mark": {"type": "point", "opacity": 0},
          "encoding": {
            "x": {
              "field": "PC2", "type": "quantitative", "scale": {"domain": [-0.14, 0.12], "nice": false, "zero": false},
              "axis": {"orient": "top", "values": [-0.125, -0.1, -0.075, -0.05, -0.025, 0, 0.025, 0.05, 0.075, 0.1], "labels": false, "title": null,
                "tickSize": {"condition": {"test": "abs(round(datum.value*1000) % 50) == 0", "value": -14}, "value": -7}}
            },
            "y": {
              "field": "MOR", "type": "quantitative", "scale": {"domain": [25, 100], "nice": false, "zero": false},
              "axis": {"orient": "right", "values": [30, 40, 50, 60, 70, 80, 90], "labels": false, "title": null,
                "tickSize": {"condition": {"test": "datum.value % 20 == 0", "value": -17}, "value": -7}}
            }
          }
        }
      ]
    }
  ]
}
